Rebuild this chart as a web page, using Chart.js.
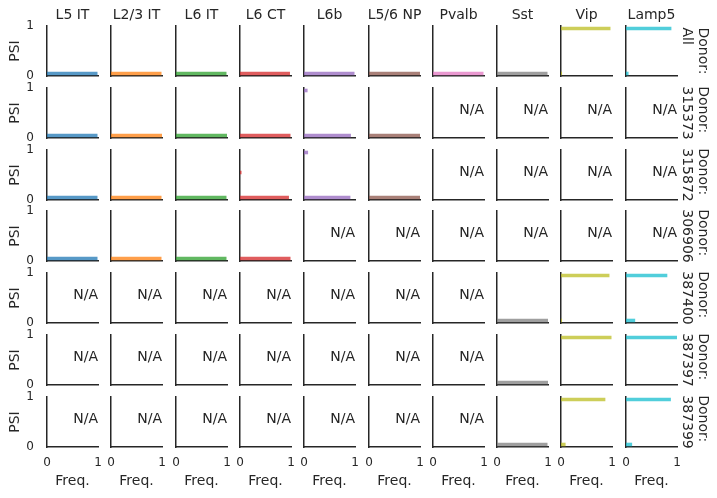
<!DOCTYPE html>
<html>
<head>
<meta charset="utf-8">
<script src="https://cdn.jsdelivr.net/npm/chart.js@4.4.1/dist/chart.umd.min.js"></script>
<style>
  body { margin: 0; background: #fff; }
  #grid { position: relative; width: 717px; height: 498px; overflow: hidden; }
  #grid canvas { position: absolute; }
</style>
</head>
<body>
<div id="grid"></div>
<script>
const cellTypes = ['L5 IT', 'L2/3 IT', 'L6 IT', 'L6 CT', 'L6b', 'L5/6 NP', 'Pvalb', 'Sst', 'Vip', 'Lamp5'];
const donors = ['All', '315373', '315872', '306906', '387400', '387397', '387399'];
const typeColors = ['#1f77b4', '#ff7f0e', '#2ca02c', '#d62728', '#9467bd', '#8c564b', '#e377c2', '#7f7f7f', '#bcbd22', '#17becf'];

// PSI histogram bins (centres) and axis ticks
const psiBins = [0.05, 0.15, 0.25, 0.35, 0.45, 0.55, 0.65, 0.75, 0.85, 0.95];
const psiTicks = [0, 1];
const freqTicks = [0, 1];

// frequency per PSI bin for each cell type, null = N/A
const histAll = [
  [0.99, 0, 0, 0, 0, 0, 0, 0, 0, 0],
  [0.99, 0, 0, 0, 0, 0, 0, 0, 0, 0],
  [0.99, 0, 0, 0, 0, 0, 0, 0, 0, 0],
  [0.98, 0, 0, 0, 0, 0, 0, 0, 0, 0],
  [0.99, 0, 0, 0, 0, 0, 0, 0, 0, 0],
  [1.0, 0, 0, 0, 0, 0, 0, 0, 0, 0],
  [0.99, 0, 0, 0, 0, 0, 0, 0, 0, 0],
  [0.99, 0, 0, 0, 0, 0, 0, 0, 0, 0],
  [0.02, 0, 0, 0, 0, 0, 0, 0, 0, 0.97],
  [0.05, 0, 0, 0, 0, 0, 0, 0, 0, 0.89]
];
const hist315373 = [
  [0.99, 0, 0, 0, 0, 0, 0, 0, 0, 0],
  [1.0, 0, 0, 0, 0, 0, 0, 0, 0, 0],
  [1.0, 0, 0, 0, 0, 0, 0, 0, 0, 0],
  [0.99, 0, 0, 0, 0, 0, 0, 0, 0, 0],
  [0.92, 0, 0, 0, 0, 0, 0, 0, 0, 0.07],
  [1.0, 0, 0, 0, 0, 0, 0, 0, 0, 0],
  null, null, null, null
];
const hist315872 = [
  [0.99, 0, 0, 0, 0, 0, 0, 0, 0, 0],
  [0.99, 0, 0, 0, 0, 0, 0, 0, 0, 0],
  [0.99, 0, 0, 0, 0, 0, 0, 0, 0, 0],
  [0.96, 0, 0, 0, 0, 0.03, 0, 0, 0, 0],
  [0.91, 0, 0, 0, 0, 0, 0, 0, 0, 0.08],
  [1.0, 0, 0, 0, 0, 0, 0, 0, 0, 0],
  null, null, null, null
];
const hist306906 = [
  [0.99, 0, 0, 0, 0, 0, 0, 0, 0, 0],
  [0.99, 0, 0, 0, 0, 0, 0, 0, 0, 0],
  [0.99, 0, 0, 0, 0, 0, 0, 0, 0, 0],
  [0.99, 0, 0, 0, 0, 0, 0, 0, 0, 0],
  null, null, null, null, null, null
];
const hist387400 = [
  null, null, null, null, null, null, null,
  [1.0, 0, 0, 0, 0, 0, 0, 0, 0, 0],
  [0.02, 0, 0, 0, 0, 0, 0, 0, 0, 0.95],
  [0.18, 0, 0, 0, 0, 0, 0, 0, 0, 0.81]
];
const hist387397 = [
  null, null, null, null, null, null, null,
  [1.0, 0, 0, 0, 0, 0, 0, 0, 0, 0],
  [0, 0, 0, 0, 0, 0, 0, 0, 0, 0.99],
  [0, 0, 0, 0, 0, 0, 0, 0, 0, 1.0]
];
const hist387399 = [
  null, null, null, null, null, null, null,
  [0.99, 0, 0, 0, 0, 0, 0, 0, 0, 0],
  [0.09, 0, 0, 0, 0, 0, 0, 0, 0, 0.87],
  [0.12, 0, 0, 0, 0, 0, 0, 0, 0, 0.88]
];
const histByDonor = [histAll, hist315373, hist315872, hist306906, hist387400, hist387397, hist387399];

const textColor = '#262626';
const fontFamily = '"DejaVu Sans", sans-serif';
Chart.defaults.font.family = fontFamily;
Chart.defaults.color = textColor;

const W = 51, H = 50;
const colLeft = c => Math.round(47 + c * 64.3);
const rowTop = r => Math.round(26 + r * 61.83);

function withAlpha(hex, a) {
  const n = parseInt(hex.slice(1), 16);
  return `rgba(${n >> 16},${(n >> 8) & 255},${n & 255},${a})`;
}

// fixed axis box so every panel's plot area lands at the same place
function fixBox(size) {
  return s => {
    if (s.isHorizontal()) s.height = size; else s.width = size;
    s.paddingTop = s.paddingBottom = s.paddingLeft = s.paddingRight = 0;
  };
}

const panelText = {
  id: 'panelText',
  afterDraw(chart, args, o) {
    const { ctx, chartArea: a } = chart;
    ctx.save();
    ctx.fillStyle = textColor;
    ctx.font = '14px ' + fontFamily;
    if (o.title) {
      ctx.textAlign = 'center';
      ctx.textBaseline = 'alphabetic';
      ctx.fillText(o.title, (a.left + a.right) / 2, a.top - 6.7);
    }
    if (o.na) {
      ctx.textAlign = 'right';
      ctx.textBaseline = 'alphabetic';
      ctx.fillText('N/A', a.right, a.top + 26);
    }
    if (o.donor) {
      const lines = ['Donor:', o.donor];
      const w = Math.max(...lines.map(t => ctx.measureText(t).width));
      ctx.translate(a.right, (a.top + a.bottom) / 2);
      ctx.rotate(Math.PI / 2);
      ctx.textAlign = 'left';
      ctx.textBaseline = 'middle';
      lines.forEach((t, i) => ctx.fillText(t, -w / 2, -(25.5 - 16 * i)));
    }
    ctx.restore();
  }
};

const grid = document.getElementById('grid');

donors.forEach((donor, r) => {
  cellTypes.forEach((type, c) => {
    const hist = histByDonor[r][c];
    const isLeft = c === 0, isTop = r === 0;
    const isBottom = r === donors.length - 1, isLast = c === cellTypes.length - 1;
    const padL = isLeft ? 47 : 4;
    const padT = isTop ? 26 : 8;
    const padB = isBottom ? 51 : 8;
    const padR = isLast ? 40 : 6;

    const canvas = document.createElement('canvas');
    canvas.width = padL + W + padR;
    canvas.height = padT + H + padB;
    canvas.style.left = (colLeft(c) - padL) + 'px';
    canvas.style.top = (rowTop(r) - padT) + 'px';
    grid.appendChild(canvas);

    new Chart(canvas, {
      type: 'bar',
      data: {
        datasets: [{
          data: hist ? psiBins.map((p, i) => ({ x: hist[i], y: p })) : [],
          backgroundColor: withAlpha(typeColors[c], 0.75),
          borderWidth: 0
        }]
      },
      options: {
        indexAxis: 'y',
        responsive: false,
        animation: false,
        events: [],
        layout: { padding: { top: padT, right: padR, bottom: 0, left: 0 } },
        scales: {
          x: {
            type: 'linear', min: 0, max: 1, offset: false,
            grid: { display: false, drawTicks: false, offset: false },
            border: { color: textColor, width: 1.5 },
            ticks: { display: isBottom, padding: 9, font: { size: 12 }, color: textColor, maxRotation: 0 },
            afterBuildTicks: s => { s.ticks = freqTicks.map(v => ({ value: v })); },
            afterFit: fixBox(padB),
            title: { display: isBottom, text: 'Freq.', font: { size: 14 }, color: textColor, padding: { top: 0, bottom: 8 } }
          },
          y: {
            type: 'linear', min: 0, max: 1, offset: false,
            grid: { display: false, drawTicks: false, offset: false },
            border: { color: textColor, width: 1.5 },
            ticks: { display: isLeft, padding: 13, font: { size: 12 }, color: textColor, crossAlign: 'near' },
            afterBuildTicks: s => { s.ticks = psiTicks.map(v => ({ value: v })); },
            afterFit: fixBox(padL),
            title: { display: isLeft, text: 'PSI', font: { size: 14 }, color: textColor, padding: { top: 7, bottom: 0 } }
          }
        },
        plugins: {
          legend: { display: false },
          tooltip: { enabled: false },
          panelText: {
            title: isTop ? type : null,
            na: !hist,
            donor: isLast ? donor : null
          }
        }
      },
      plugins: [panelText]
    });
  });
});
</script>
</body>
</html>
